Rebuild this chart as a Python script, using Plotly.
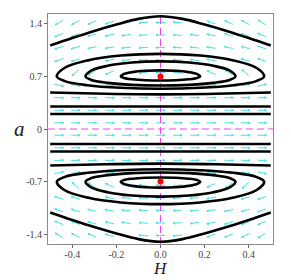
import math
import plotly.graph_objects as go

# ---------------- data ----------------
H_RANGE = [-0.51, 0.51]
A_RANGE = [-1.53, 1.53]

X_TICKS = [-0.4, -0.2, 0.0, 0.2, 0.4]
X_TICK_TEXT = ["-0.4", "-0.2", "0.0", "0.2", "0.4"]
Y_TICKS = [-1.4, -0.7, 0.0, 0.7, 1.4]
Y_TICK_TEXT = ["-1.4", "-0.7", "0", "0.7", "1.4"]

# direction-field grid (arrow centres) and arrow directions in screen degrees
GRID_H = [-0.46, -0.385, -0.31, -0.23, -0.155, -0.077, 0.0, 0.077, 0.155, 0.23, 0.31, 0.385, 0.46]
GRID_A = [1.417, 1.25, 1.083, 0.917, 0.75, 0.583, 0.417, 0.25, 0.083,
          -0.083, -0.25, -0.417, -0.583, -0.75, -0.917, -1.083, -1.25, -1.417]
ARROW_DEG = [
    [212, 208, 203, 198, 192, 186, 180, 174, 168, 162, 157, 152, 148],
    [203, 199, 196, 192, 188, 184, 180, 176, 172, 168, 164, 161, 157],
    [198, 195, 192, 189, 186, 183, 180, 177, 174, 171, 168, 165, 162],
    [199, 196, 193, 190, 187, 183, 180, 177, 173, 170, 167, 164, 161],
    [232, 222, 213, 205, 196, 188, 180, 172, 164, 155, 147, 138, 128],
    [-11, -9, -8, -6, -4, -2, 0, 2, 4, 6, 8, 9, 11],
    [-2, -1, -1, -1, 0, 0, 0, 0, 0, 1, 1, 1, 2],
    [0, 0, 0, 0, 0, 0, 0, 0, 0, 0, 0, 0, 0],
    [0, 0, 0, 0, 0, 0, 0, 0, 0, 0, 0, 0, 0],
    [0, 0, 0, 0, 0, 0, 0, 0, 0, 0, 0, 0, 0],
    [0, 0, 0, 0, 0, 0, 0, 0, 0, 0, 0, 0, 0],
    [2, 1, 1, 1, 0, 0, 0, 0, 0, -1, -1, -1, -2],
    [11, 9, 8, 6, 4, 2, 0, -2, -4, -6, -8, -9, -11],
    [128, 138, 147, 155, 164, 172, 180, 188, 196, 205, 213, 222, 232],
    [161, 164, 167, 170, 173, 177, 180, 183, 187, 190, 193, 196, 199],
    [162, 165, 168, 171, 174, 177, 180, 183, 186, 189, 192, 195, 198],
    [157, 161, 164, 168, 172, 176, 180, 184, 188, 192, 196, 199, 203],
    [148, 152, 157, 162, 168, 174, 180, 186, 192, 198, 203, 208, 212],
]

# open trajectories (top / bottom)
TOP_H = [-0.5, -0.4, -0.3, -0.2, -0.1, 0.0, 0.1, 0.2, 0.3, 0.4, 0.5]
TOP_A = [1.11, 1.21, 1.305, 1.39, 1.465, 1.50, 1.465, 1.39, 1.305, 1.21, 1.11]
BOT_H = [-0.5, -0.4, -0.3, -0.2, -0.1, 0.0, 0.1, 0.2, 0.3, 0.4, 0.5]
BOT_A = [-1.11, -1.21, -1.305, -1.39, -1.465, -1.50, -1.465, -1.39, -1.305, -1.21, -1.11]

# closed orbits around the upper centre
OUT_U_H = [0.47, 0.434, 0.332, 0.18, 0.0, -0.18, -0.332, -0.434, -0.47, -0.434, -0.332, -0.18, 0.0, 0.18, 0.332, 0.434, 0.47]
OUT_U_A = [0.70, 0.815, 0.912, 0.977, 1.0, 0.977, 0.912, 0.815, 0.70, 0.637, 0.583, 0.548, 0.535, 0.548, 0.583, 0.637, 0.70]
MID_U_H = [0.34, 0.314, 0.24, 0.13, 0.0, -0.13, -0.24, -0.314, -0.34, -0.314, -0.24, -0.13, 0.0, 0.13, 0.24, 0.314, 0.34]
MID_U_A = [0.70, 0.777, 0.841, 0.885, 0.90, 0.885, 0.841, 0.777, 0.70, 0.653, 0.614, 0.587, 0.578, 0.587, 0.614, 0.653, 0.70]
INN_U_H = [0.18, 0.166, 0.127, 0.069, 0.0, -0.069, -0.127, -0.166, -0.18, -0.166, -0.127, -0.069, 0.0, 0.069, 0.127, 0.166, 0.18]
INN_U_A = [0.70, 0.731, 0.757, 0.774, 0.78, 0.774, 0.757, 0.731, 0.70, 0.679, 0.661, 0.649, 0.645, 0.649, 0.661, 0.679, 0.70]

# closed orbits around the lower centre
OUT_L_H = [0.47, 0.434, 0.332, 0.18, 0.0, -0.18, -0.332, -0.434, -0.47, -0.434, -0.332, -0.18, 0.0, 0.18, 0.332, 0.434, 0.47]
OUT_L_A = [-0.70, -0.815, -0.912, -0.977, -1.0, -0.977, -0.912, -0.815, -0.70, -0.637, -0.583, -0.548, -0.535, -0.548, -0.583, -0.637, -0.70]
MID_L_H = [0.34, 0.314, 0.24, 0.13, 0.0, -0.13, -0.24, -0.314, -0.34, -0.314, -0.24, -0.13, 0.0, 0.13, 0.24, 0.314, 0.34]
MID_L_A = [-0.70, -0.777, -0.841, -0.885, -0.90, -0.885, -0.841, -0.777, -0.70, -0.653, -0.614, -0.587, -0.578, -0.587, -0.614, -0.653, -0.70]
INN_L_H = [0.18, 0.166, 0.127, 0.069, 0.0, -0.069, -0.127, -0.166, -0.18, -0.166, -0.127, -0.069, 0.0, 0.069, 0.127, 0.166, 0.18]
INN_L_A = [-0.70, -0.731, -0.757, -0.774, -0.78, -0.774, -0.757, -0.731, -0.70, -0.679, -0.661, -0.649, -0.645, -0.649, -0.661, -0.679, -0.70]

# nearly straight trajectories
LINE_H = [-0.5, -0.25, 0.0, 0.25, 0.5]
LINE1_A = [0.485, 0.468, 0.46, 0.468, 0.485]
LINE2_A = [0.30, 0.30, 0.30, 0.30, 0.30]
LINE3_A = [0.20, 0.20, 0.20, 0.20, 0.20]
LINE4_A = [-0.20, -0.20, -0.20, -0.20, -0.20]
LINE5_A = [-0.30, -0.30, -0.30, -0.30, -0.30]
LINE6_A = [-0.485, -0.468, -0.46, -0.468, -0.485]

# equilibrium points
EQ_H = [0.0, 0.0]
EQ_A = [0.7, -0.7]

# reference (axis) lines
VLINE_H = [0.0, 0.0]
VLINE_A = [-1.53, 1.53]
HLINE_H = [-0.51, 0.51]
HLINE_A = [0.0, 0.0]

# ---------------- layout geometry ----------------
# the page body adds an 8px margin, so the figure is laid out 8px smaller
W, HGT = 283, 272
M_L, M_R, M_T, M_B = 40, 18, 6, 36
PLOT_W = W - M_L - M_R
PLOT_H = HGT - M_T - M_B
PX_PER_H = PLOT_W / (H_RANGE[1] - H_RANGE[0])
PX_PER_A = PLOT_H / (A_RANGE[1] - A_RANGE[0])

ARROW_LEN = 9.0   # px
HEAD_LEN = 2.2    # px
HEAD_ANG = 155    # deg

ax_x, ax_y = [], []
for i, a0 in enumerate(GRID_A):
    for j, h0 in enumerate(GRID_H):
        t = math.radians(ARROW_DEG[i][j])
        ux, uy = math.cos(t), math.sin(t)
        dx = ux * ARROW_LEN / 2 / PX_PER_H
        dy = uy * ARROW_LEN / 2 / PX_PER_A
        tail = (h0 - dx, a0 - dy)
        tip = (h0 + dx, a0 + dy)
        ax_x += [tail[0], tip[0], None]
        ax_y += [tail[1], tip[1], None]
        for s in (1, -1):
            ta = t + s * math.radians(HEAD_ANG)
            ax_x += [tip[0], tip[0] + math.cos(ta) * HEAD_LEN / PX_PER_H, None]
            ax_y += [tip[1], tip[1] + math.sin(ta) * HEAD_LEN / PX_PER_A, None]

fig = go.Figure()
fig.add_trace(go.Scatter(x=ax_x, y=ax_y, mode="lines",
                         line=dict(color="#45e0e0", width=1),
                         hoverinfo="skip", showlegend=False))

for xs, ys in [(VLINE_H, VLINE_A), (HLINE_H, HLINE_A)]:
    fig.add_trace(go.Scatter(x=xs, y=ys, mode="lines",
                             line=dict(color="#ee44ee", width=1, dash="7px,4px"),
                             hoverinfo="skip", showlegend=False))

curves = [
    (TOP_H, TOP_A), (BOT_H, BOT_A),
    (OUT_U_H, OUT_U_A), (MID_U_H, MID_U_A), (INN_U_H, INN_U_A),
    (OUT_L_H, OUT_L_A), (MID_L_H, MID_L_A), (INN_L_H, INN_L_A),
    (LINE_H, LINE1_A), (LINE_H, LINE2_A), (LINE_H, LINE3_A),
    (LINE_H, LINE4_A), (LINE_H, LINE5_A), (LINE_H, LINE6_A),
]
for xs, ys in curves:
    fig.add_trace(go.Scatter(x=xs, y=ys, mode="lines",
                             line=dict(color="black", width=2.6, shape="spline", smoothing=1.0),
                             hoverinfo="skip", showlegend=False))

fig.add_trace(go.Scatter(x=EQ_H, y=EQ_A, mode="markers",
                         marker=dict(color="red", size=6, symbol="circle"),
                         hoverinfo="skip", showlegend=False))

tick_font = dict(family="Liberation Serif, Times New Roman, serif", size=10, color="#444")
axis_common = dict(showgrid=False, zeroline=False, showline=True, mirror=True,
                   linecolor="#8a8a8a", linewidth=1, ticks="outside", ticklen=3,
                   tickcolor="#666", tickfont=tick_font)

fig.update_layout(
    width=W, height=HGT,
    margin=dict(l=M_L, r=M_R, t=M_T, b=M_B, pad=0),
    paper_bgcolor="white", plot_bgcolor="white",
    showlegend=False,
    xaxis=dict(range=H_RANGE, tickvals=X_TICKS, ticktext=X_TICK_TEXT,
               ticklabelstandoff=-2, **axis_common),
    yaxis=dict(range=A_RANGE, tickvals=Y_TICKS, ticktext=Y_TICK_TEXT, **axis_common),
    annotations=[
        dict(text="<i>H</i>", x=0.5, y=0, xref="paper", yref="paper",
             xanchor="center", yanchor="top", yshift=-14, borderpad=0, showarrow=False,
             font=dict(family="Liberation Serif, Times New Roman, serif", size=17, color="#222")),
        dict(text="<i>a</i>", x=0, y=0.5, xref="paper", yref="paper",
             xanchor="right", yanchor="middle", xshift=-22, borderpad=0, showarrow=False,
             font=dict(family="Liberation Serif, Times New Roman, serif", size=21, color="#222")),
    ],
)

fig.write_html("out.html")
